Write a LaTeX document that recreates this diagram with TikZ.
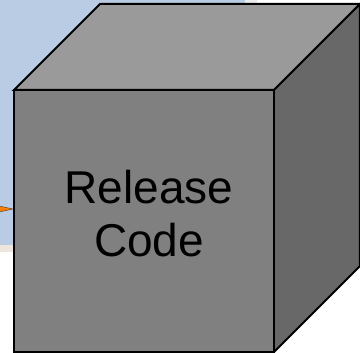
\documentclass[tikz,border=0pt]{standalone}
\usepackage{fontspec}
\setmainfont{Liberation Sans}
\definecolor{winblue}{HTML}{B9CCE4}
\definecolor{frontgray}{HTML}{808080}
\definecolor{topgray}{HTML}{9A9A9A}
\definecolor{sidegray}{HTML}{686868}
\begin{document}
\begin{tikzpicture}[x=1pt, y=-1pt, line width=2pt, line join=miter]
      \useasboundingbox (0, 0) rectangle (360, 353);
      \clip (0, 0) rectangle (360, 353);
      \fill[white] (0, 0) rectangle (360, 353);
      \fill[gray!15] (0, 0) rectangle (257, 252);
      \fill[gray!30!brown!20] (0, 245) rectangle (257, 252);
      \fill[winblue] (0, 0) rectangle (245, 245);
      \fill[orange, draw=black!70, line width=0.5pt] (-15, 203) -- (13, 209) -- (-15, 215) -- cycle;
      \draw[fill=topgray] (14, 90) -- (100, 4) -- (360, 4) -- (274, 90) -- cycle;
      \draw[fill=sidegray] (274, 90) -- (360, 4) -- (360, 266) -- (274, 352) -- cycle;
      \draw[fill=frontgray] (14, 90) rectangle (274, 352);
      \node[align=center, font=\fontsize{46}{53}\selectfont] (label) at (149, 214) {Release\\Code};
    \end{tikzpicture}
\end{document}
